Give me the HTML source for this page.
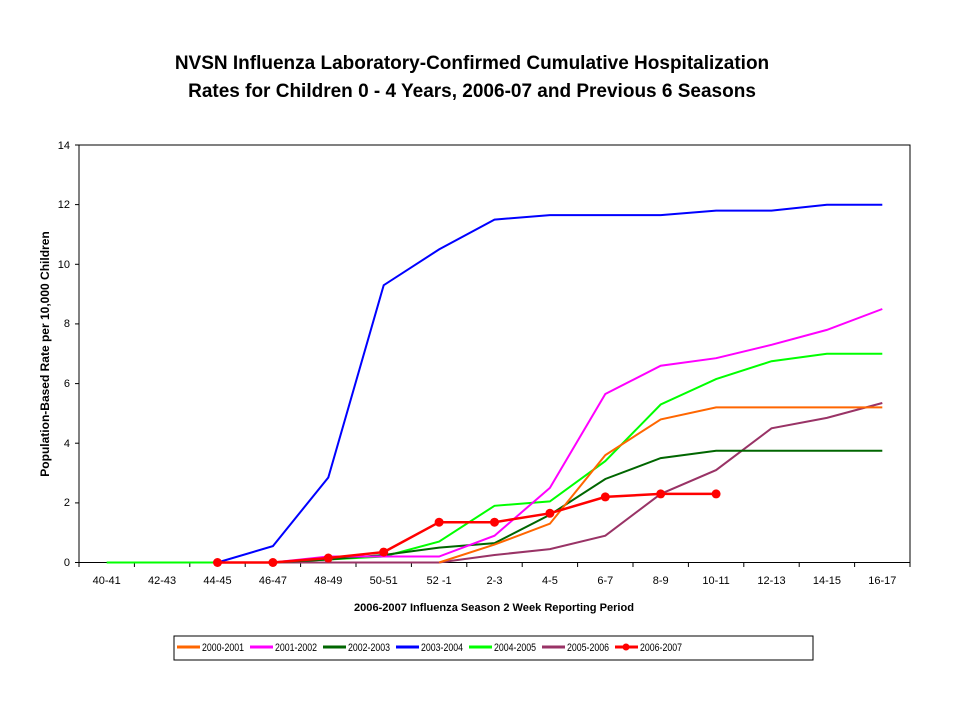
<!DOCTYPE html><html><head><style>body{margin:0;background:#fff}svg text{font-family:"Liberation Sans",sans-serif}</style></head><body>
<svg width="960" height="720" xmlns="http://www.w3.org/2000/svg">
<text x="472" y="69" text-anchor="middle" font-size="19" font-weight="bold">NVSN Influenza Laboratory-Confirmed Cumulative Hospitalization</text>
<text x="472" y="97" text-anchor="middle" font-size="19" font-weight="bold">Rates for Children 0 - 4 Years, 2006-07 and Previous 6 Seasons</text>
<rect x="79" y="145" width="831" height="417.5" fill="none" stroke="#000" stroke-width="1"/>
<g font-size="11" text-anchor="end">
<text x="70" y="566">0</text><text x="70" y="506">2</text><text x="70" y="447">4</text><text x="70" y="387">6</text><text x="70" y="327">8</text><text x="70" y="268">10</text><text x="70" y="208">12</text><text x="70" y="149">14</text></g>
<g stroke="#000"><line x1="75" y1="562.5" x2="79" y2="562.5"/><line x1="75" y1="502.9" x2="79" y2="502.9"/><line x1="75" y1="443.2" x2="79" y2="443.2"/><line x1="75" y1="383.6" x2="79" y2="383.6"/><line x1="75" y1="323.9" x2="79" y2="323.9"/><line x1="75" y1="264.3" x2="79" y2="264.3"/><line x1="75" y1="204.6" x2="79" y2="204.6"/><line x1="75" y1="145" x2="79" y2="145"/></g>
<g id="xt" stroke="#000"></g>
<g font-size="11" text-anchor="middle" id="xl"></g>
<text x="494" y="611" text-anchor="middle" font-size="11" font-weight="bold" textLength="280" lengthAdjust="spacingAndGlyphs">2006-2007 Influenza Season 2 Week Reporting Period</text>
<text transform="translate(49,354) rotate(-90)" text-anchor="middle" font-size="12" font-weight="bold">Population-Based Rate per 10,000 Children</text>
<g id="lines" fill="none" stroke-width="2"></g>
<rect x="174" y="636" width="639" height="24" fill="none" stroke="#000"/>
<g font-size="11">
<line x1="177" y1="647" x2="200" y2="647" stroke="#ff6600" stroke-width="3"/><text x="202" y="651" textLength="42" lengthAdjust="spacingAndGlyphs">2000-2001</text>
<line x1="250" y1="647" x2="273" y2="647" stroke="#ff00ff" stroke-width="3"/><text x="275" y="651" textLength="42" lengthAdjust="spacingAndGlyphs">2001-2002</text>
<line x1="323" y1="647" x2="346" y2="647" stroke="#006600" stroke-width="3"/><text x="348" y="651" textLength="42" lengthAdjust="spacingAndGlyphs">2002-2003</text>
<line x1="396" y1="647" x2="419" y2="647" stroke="#0000ff" stroke-width="3"/><text x="421" y="651" textLength="42" lengthAdjust="spacingAndGlyphs">2003-2004</text>
<line x1="469" y1="647" x2="492" y2="647" stroke="#00ff00" stroke-width="3"/><text x="494" y="651" textLength="42" lengthAdjust="spacingAndGlyphs">2004-2005</text>
<line x1="542" y1="647" x2="565" y2="647" stroke="#993366" stroke-width="3"/><text x="567" y="651" textLength="42" lengthAdjust="spacingAndGlyphs">2005-2006</text>
<line x1="615" y1="647" x2="638" y2="647" stroke="#ff0000" stroke-width="3"/><circle cx="626" cy="647" r="3.5" fill="#ff0000"/><text x="640" y="651" textLength="42" lengthAdjust="spacingAndGlyphs">2006-2007</text>
</g>
</svg>
<script>
var ns="http://www.w3.org/2000/svg",s=document.querySelector('svg');
var cats=["40-41","42-43","44-45","46-47","48-49","50-51","52 -1","2-3","4-5","6-7","8-9","10-11","12-13","14-15","16-17"];
var w=831/15;function X(i){return 79+w*(i+0.5)}function Y(v){return 562.5-v*29.82}
var xt=document.getElementById('xt'),xl=document.getElementById('xl');
for(var i=0;i<=15;i++){var l=document.createElementNS(ns,'line');var x=79+w*i;l.setAttribute('x1',x);l.setAttribute('x2',x);l.setAttribute('y1',562.5);l.setAttribute('y2',567);xt.appendChild(l)}
cats.forEach(function(c,i){var t=document.createElementNS(ns,'text');t.setAttribute('x',X(i));t.setAttribute('y',584);t.textContent=c;xl.appendChild(t)});
var S=[
["#00ff00",[0,0,0,0,0.1,0.2,0.7,1.9,2.05,3.4,5.3,6.15,6.75,7.0,7.0],0],
["#993366",[null,null,null,0,0,0,0,0.25,0.45,0.9,2.3,3.1,4.5,4.85,5.35],0],
["#006600",[null,null,null,0,0.1,0.25,0.5,0.65,1.6,2.8,3.5,3.75,3.75,3.75,3.75],0],
["#ff6600",[null,null,null,null,null,null,0,0.6,1.3,3.6,4.8,5.2,5.2,5.2,5.2],0],
["#ff00ff",[null,null,null,0,0.2,0.2,0.2,0.9,2.5,5.65,6.6,6.85,7.3,7.8,8.5],0],
["#0000ff",[null,null,0,0.55,2.85,9.3,10.5,11.5,11.65,11.65,11.65,11.8,11.8,12.0,12.0],0],
["#ff0000",[null,null,0,0,0.15,0.35,1.35,1.35,1.65,2.2,2.3,2.3],1]];
var g=document.getElementById('lines');
S.forEach(function(sr){var p=[];sr[1].forEach(function(v,i){if(v!==null)p.push(X(i).toFixed(1)+','+Y(v).toFixed(1))});
var pl=document.createElementNS(ns,'polyline');pl.setAttribute('points',p.join(' '));pl.setAttribute('stroke',sr[0]);if(sr[2])pl.setAttribute('stroke-width',2.5);g.appendChild(pl);
if(sr[2])sr[1].forEach(function(v,i){if(v!==null){var c=document.createElementNS(ns,'circle');c.setAttribute('cx',X(i));c.setAttribute('cy',Y(v));c.setAttribute('r',4.5);c.setAttribute('fill',sr[0]);g.appendChild(c)}})});
</script>
</body></html>
